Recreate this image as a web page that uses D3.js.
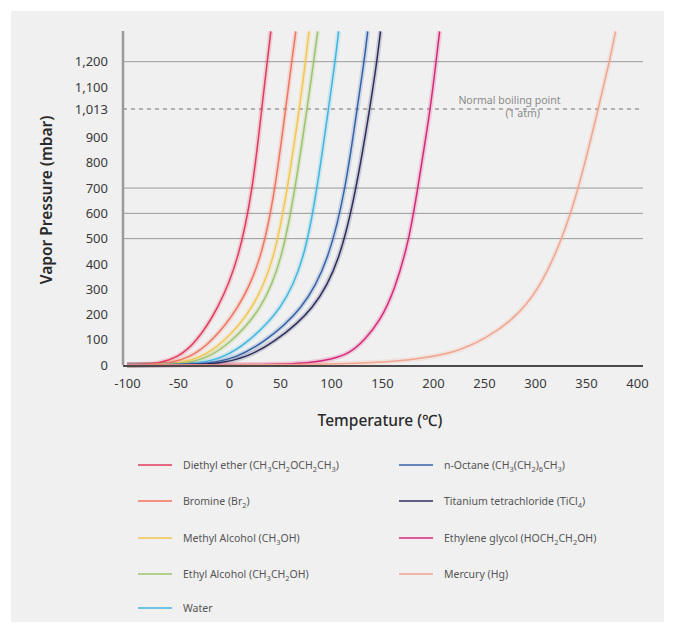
<!DOCTYPE html>
<html>
<head>
<meta charset="utf-8">
<script src="https://cdn.jsdelivr.net/npm/d3@7"></script>
<style>
	body { margin: 0; background: #ffffff; }
	svg text { font-family: "Noto Sans", "DejaVu Sans", sans-serif; }
</style>
</head>
<body>
<svg id="chart" width="675" height="634"></svg>
<script>
	'use strict';

	// vapor pressure curves, [temperature °C, pressure mbar]
	var diethylEther = [[-100, 0], [-85, 1], [-70, 5], [-50, 30], [-33, 86], [-11, 218], [9.5, 415], [23.5, 700], [32, 1013], [37.5, 1200], [41, 1320]];
	var bromine = [[-100, 0], [-78, 1], [-60, 5], [-38, 30], [-18.5, 86], [9, 218], [32, 415], [45.5, 700], [55.5, 1013], [61.5, 1200], [65.5, 1320]];
	var methylAlcohol = [[-100, 0], [-70, 1], [-50, 5], [-27, 30], [-6, 86], [23.5, 218], [44.5, 415], [57.5, 700], [69, 1013], [75, 1200], [78.5, 1320]];
	var ethylAlcohol = [[-100, 0], [-65, 1], [-43, 5], [-20, 30], [1, 86], [32, 218], [52, 415], [65, 700], [76.5, 1013], [83, 1200], [87, 1320]];
	var water = [[-100, 0], [-55, 1], [-30, 5], [-5, 30], [17.5, 86], [52, 218], [74, 415], [86.5, 700], [97.5, 1013], [104, 1200], [107.5, 1320]];
	var nOctane = [[-100, 0], [-45, 1], [-20, 5], [8, 30], [33, 86], [72.5, 218], [98, 415], [114.5, 700], [125.5, 1013], [132.5, 1200], [136, 1320]];
	var titaniumTetrachloride = [[-100, 0], [-35, 1], [-10, 5], [17, 30], [43, 86], [84, 218], [109, 415], [125, 700], [138, 1013], [145, 1200], [148.5, 1320]];
	var ethyleneGlycol = [[-100, 0], [40, 1], [80, 8], [100, 22], [118.5, 46], [133, 99], [148, 175], [162, 290], [177, 500], [185, 700], [197.5, 1013], [203, 1200], [206.5, 1320]];
	var mercury = [[-100, 0], [120, 1], [180, 20], [220, 46], [252, 105], [278, 178], [303, 290], [327, 500], [343, 700], [362, 1013], [373, 1200], [379, 1320]];

	// legend names, split into [text, isSubscript] pieces
	var seriesNames = [
		[['Diethyl ether (CH', 0], ['3', 1], ['CH', 0], ['2', 1], ['OCH', 0], ['2', 1], ['CH', 0], ['3', 1], [')', 0]],
		[['Bromine (Br', 0], ['2', 1], [')', 0]],
		[['Methyl Alcohol (CH', 0], ['3', 1], ['OH)', 0]],
		[['Ethyl Alcohol (CH', 0], ['3', 1], ['CH', 0], ['2', 1], ['OH)', 0]],
		[['Water', 0]],
		[['n-Octane (CH', 0], ['3', 1], ['(CH', 0], ['2', 1], [')', 0], ['6', 1], ['CH', 0], ['3', 1], [')', 0]],
		[['Titanium tetrachloride (TiCl', 0], ['4', 1], [')', 0]],
		[['Ethylene glycol (HOCH', 0], ['2', 1], ['CH', 0], ['2', 1], ['OH)', 0]],
		[['Mercury (Hg)', 0]]
	];
	var seriesValues = [diethylEther, bromine, methylAlcohol, ethylAlcohol, water, nOctane, titaniumTetrachloride, ethyleneGlycol, mercury];
	var seriesColors = ['#e23a5c', '#f2735e', '#f3c64e', '#9dc468', '#3fb6e2', '#3563ab', '#2c2d5e', '#d8287a', '#f2a58e'];

	var xTicks = [-100, -50, 0, 50, 100, 150, 200, 250, 300, 350, 400];
	var yTicks = [0, 100, 200, 300, 400, 500, 600, 700, 800, 900, 1013, 1100, 1200];
	var gridValues = [500, 600, 700, 1200];
	var boilingPoint = 1013;

	var svg = d3.select('#chart');

	// panel
	svg.append('rect')
		.attr('x', 11).attr('y', 11)
		.attr('width', 653).attr('height', 611)
		.attr('fill', '#f0f0f0');

	var x = d3.scaleLinear().domain([-100, 400]).range([127, 637]);
	var y = d3.scaleLinear().domain([0, 1200]).range([365, 61.7]);
	var plotLeft = 123, plotRight = 643;

	// grid lines
	svg.append('g').selectAll('line')
		.data(gridValues)
		.enter().append('line')
		.attr('x1', plotLeft).attr('x2', plotRight)
		.attr('y1', function (d) { return y(d); })
		.attr('y2', function (d) { return y(d); })
		.attr('stroke', '#9a9a9a')
		.attr('stroke-width', 1);

	svg.append('line')
		.attr('x1', plotLeft).attr('x2', plotRight)
		.attr('y1', y(boilingPoint)).attr('y2', y(boilingPoint))
		.attr('stroke', '#9a9a9a')
		.attr('stroke-width', 1.6)
		.attr('stroke-dasharray', '4,4');

	svg.append('text')
		.attr('x', x(275)).attr('y', y(boilingPoint) - 5)
		.attr('text-anchor', 'middle')
		.attr('font-size', 10.5)
		.attr('fill', '#8a8a8a')
		.text('Normal boiling point');
	svg.append('text')
		.attr('x', x(288)).attr('y', y(boilingPoint) + 8)
		.attr('text-anchor', 'middle')
		.attr('font-size', 10.5)
		.attr('fill', '#8a8a8a')
		.text('(1 atm)');

	// curves, smoothed like the hand-drawn originals
	var line = d3.line()
		.curve(d3.curveBasis)
		.x(function (d) { return x(d[0]); })
		.y(function (d) { return y(d[1]); });

	var curves = svg.append('g');
	seriesValues.forEach(function (values, i) {
		curves.append('path')
			.datum(values)
			.attr('fill', 'none')
			.attr('stroke', seriesColors[i])
			.attr('stroke-opacity', 0.18)
			.attr('stroke-width', 5)
			.attr('d', line);
	});
	seriesValues.forEach(function (values, i) {
		curves.append('path')
			.datum(values)
			.attr('fill', 'none')
			.attr('stroke', seriesColors[i])
			.attr('stroke-width', 1.5)
			.attr('stroke-linejoin', 'round')
			.attr('d', line);
	});

	// axes lines
	svg.append('line')
		.attr('x1', plotLeft).attr('x2', plotLeft)
		.attr('y1', 31).attr('y2', y(0))
		.attr('stroke', '#9a9a9a')
		.attr('stroke-width', 2.5);
	svg.append('line')
		.attr('x1', plotLeft).attr('x2', plotRight)
		.attr('y1', y(0) + 1).attr('y2', y(0) + 1)
		.attr('stroke', '#4a4a4a')
		.attr('stroke-width', 2);

	// tick labels via axes, without domain and tick marks
	var fmt = d3.format(',');
	var yAxis = svg.append('g')
		.attr('transform', 'translate(' + 111 + ',0)')
		.call(d3.axisLeft(y).tickValues(yTicks).tickFormat(fmt).tickSize(0));
	var xAxis = svg.append('g')
		.attr('transform', 'translate(0,' + 376 + ')')
		.call(d3.axisBottom(x).tickValues(xTicks).tickFormat(function (d) { return d < 0 ? '-' + Math.abs(d) : d; }).tickSize(0));
	[yAxis, xAxis].forEach(function (g) {
		g.select('.domain').remove();
		g.selectAll('text')
			.attr('font-family', '"Noto Sans", "DejaVu Sans", sans-serif')
			.attr('font-size', 13)
			.attr('fill', '#3a3a3a');
	});

	// axis titles
	svg.append('text')
		.attr('transform', 'translate(52,' + 200 + ') rotate(-90)')
		.attr('text-anchor', 'middle')
		.attr('font-size', 15.5)
		.attr('font-weight', 600)
		.attr('fill', '#2a2a2a')
		.text('Vapor Pressure (mbar)');
	svg.append('text')
		.attr('x', 380).attr('y', 426)
		.attr('text-anchor', 'middle')
		.attr('font-size', 15.5)
		.attr('font-weight', 500)
		.attr('fill', '#2a2a2a')
		.text('Temperature (℃)');

	// legend
	var legendRows = [465, 501, 538, 574, 608];
	var legend = svg.append('g');
	seriesNames.forEach(function (parts, i) {
		var col = i < 5 ? 0 : 1;
		var row = i < 5 ? i : i - 5;
		var lx = col === 0 ? 138 : 399;
		var ly = legendRows[row];
		var item = legend.append('g').attr('transform', 'translate(' + lx + ',' + ly + ')');
		item.append('line')
			.attr('x1', 0).attr('x2', 34)
			.attr('stroke', seriesColors[i])
			.attr('stroke-width', 1.5);
		var t = item.append('text')
			.attr('x', 45).attr('y', 4)
			.attr('font-size', 10.5)
			.attr('fill', '#555');
		parts.forEach(function (p, j) {
			var prevSub = j > 0 && parts[j - 1][1];
			var dy = p[1] && !prevSub ? 3 : (!p[1] && prevSub ? -3 : 0);
			t.append('tspan')
				.attr('dy', dy)
				.attr('font-size', p[1] ? 7.5 : 10.5)
				.text(p[0]);
		});
	});
</script>
</body>
</html>
